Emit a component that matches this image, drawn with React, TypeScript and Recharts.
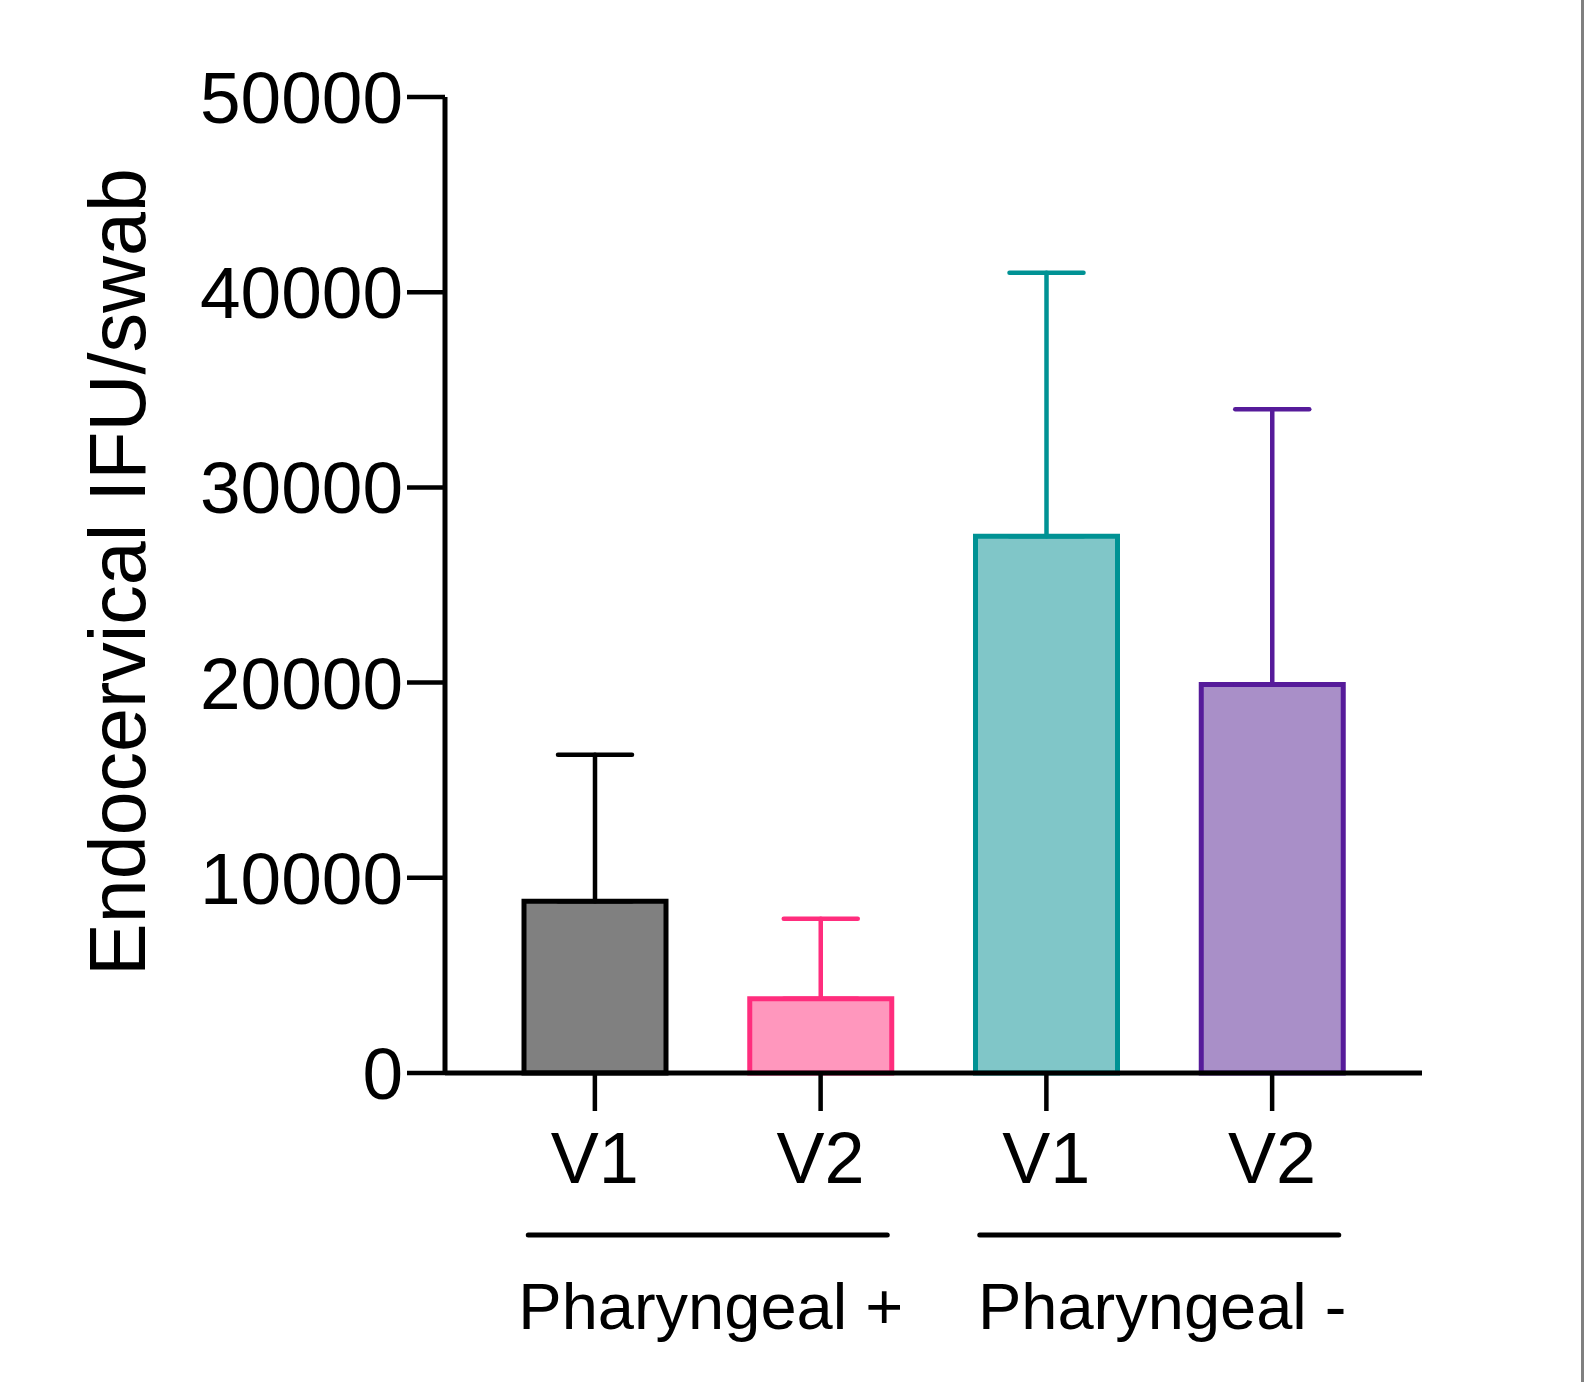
import { Bar, BarChart, Cell, ErrorBar, XAxis, YAxis } from 'recharts';

// values (mean + upper SD)
const slots = ['p_v1', 'p_v2', 'n_v1', 'n_v2'];
const visits = ['V1', 'V2', 'V1', 'V2'];
const groups = ['Pharyngeal +', 'Pharyngeal +', 'Pharyngeal -', 'Pharyngeal -'];
const means = [8800, 3800, 27500, 19900];
const sds = [7500, 4100, 13500, 14100];
const yTicks = [0, 10000, 20000, 30000, 40000, 50000];

const fills = ['#808080', '#FF97BD', '#80C6C8', '#A98FC8'];
const strokes = ['#000000', '#FF2D7D', '#009294', '#561B9A'];

const FONT = '"Liberation Sans", Arial, sans-serif';

// one error key per bar so each whisker can take its bar's colour
const data = slots.map((slot, i) => {
  const row: Record<string, any> = { slot, mean: means[i] };
  slots.forEach((_, j) => {
    row[`err${j}`] = i === j ? [0, sds[i]] : undefined;
  });
  return row;
});

function GroupedTick(props: any) {
  const { x, y, index, payload } = props;
  const half = payload?.offset ?? 113;
  const first = index === 0 || groups[index - 1] !== groups[index];
  let n = 1;
  while (index + n < groups.length && groups[index + n] === groups[index]) n++;
  const mid = x + (n - 1) * half;
  return (
    <g>
      <text x={x} y={y} dy="0.71em" textAnchor="middle" fontSize={72} fill="#000" fontFamily={FONT}>
        {visits[index]}
      </text>
      {first && (
        <g>
          <line
            x1={mid - 179.5}
            x2={mid + 179.5}
            y1={y + 103}
            y2={y + 103}
            stroke="#000"
            strokeWidth={5}
            strokeLinecap="round"
          />
          <text x={mid + 3} y={y + 197} textAnchor="middle" fontSize={65} fill="#000" fontFamily={FONT}>
            {groups[index]}
          </text>
        </g>
      )}
    </g>
  );
}

function YTitle(props: any) {
  const vb = props.viewBox;
  const cx = vb.x - 200;
  const cy = vb.y + vb.height / 2 - 13;
  return (
    <text
      x={cx}
      y={cy}
      transform={`rotate(-90, ${cx}, ${cy})`}
      textAnchor="middle"
      fontSize={79}
      fill="#000"
      fontFamily={FONT}
    >
      Endocervical IFU/swab
    </text>
  );
}

export default function App() {
  return (
    <div
      style={{
        position: 'absolute',
        left: 0,
        top: 0,
        width: 1584,
        height: 1382,
        boxSizing: 'border-box',
        borderRight: '3px solid #808080',
        background: '#fff',
      }}
    >
      <BarChart
        width={1581}
        height={1382}
        data={data}
        margin={{ top: 97, right: 159, bottom: 29, left: 345 }}
        style={{ fontFamily: FONT }}
      >
        <XAxis
          dataKey="slot"
          type="category"
          height={280}
          padding={{ left: 37, right: 37 }}
          interval={0}
          tickSize={38}
          tickMargin={21}
          tick={GroupedTick}
          axisLine={{ stroke: '#000', strokeWidth: 5 }}
          tickLine={{ stroke: '#000', strokeWidth: 4.5 }}
        />
        <YAxis
          type="number"
          domain={[0, 50000]}
          ticks={yTicks}
          interval={0}
          width={100}
          tickSize={38}
          tickMargin={4}
          tick={{ fontSize: 73, fill: '#000', fontFamily: FONT }}
          axisLine={{ stroke: '#000', strokeWidth: 5 }}
          tickLine={{ stroke: '#000', strokeWidth: 4.5 }}
          label={{ content: YTitle }}
        />
        <Bar dataKey="mean" barSize={142} strokeWidth={5} isAnimationActive={false}>
          {data.map((_, i) => (
            <Cell key={i} fill={fills[i]} stroke={strokes[i]} strokeWidth={5} />
          ))}
          {slots.map((_, j) => (
            <ErrorBar
              key={j}
              dataKey={`err${j}`}
              direction="y"
              width={37}
              stroke={strokes[j]}
              strokeWidth={4.5}
              strokeLinecap="round"
              isAnimationActive={false}
            />
          ))}
        </Bar>
      </BarChart>
    </div>
  );
}
